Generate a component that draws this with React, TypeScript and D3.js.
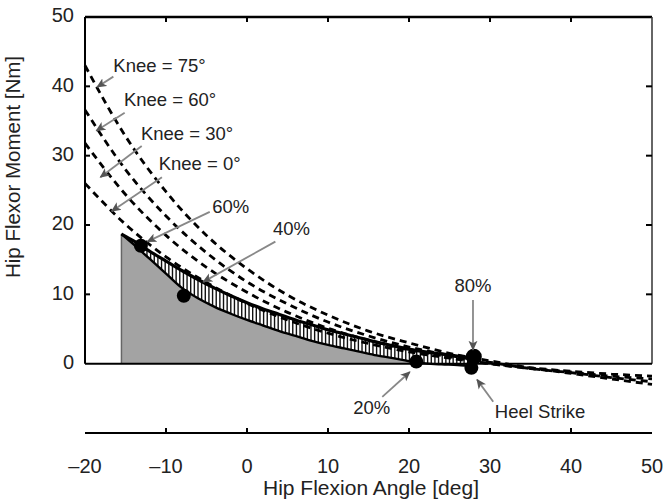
import React from "react";
import * as d3 from "d3";

// ---- data ----
const curveX = [-20, -15, -10, -5, 0, 5, 10, 15, 20, 25, 30, 35, 40, 45, 50];
const knee75 = [43.0, 32.8, 24.8, 18.5, 13.7, 9.9, 7.0, 4.7, 3.0, 1.5, 0.4, -0.6, -1.4, -2.2, -3.0];
const knee60 = [36.6, 28.0, 21.3, 16.0, 11.8, 8.6, 6.0, 4.0, 2.4, 1.2, 0.2, -0.7, -1.3, -2.0, -2.6];
const knee30 = [31.8, 24.4, 18.5, 13.9, 10.3, 7.4, 5.1, 3.4, 2.0, 1.0, 0.0, -0.7, -1.2, -1.8, -2.2];
const knee0 = [26.0, 20.1, 15.4, 11.7, 8.7, 6.3, 4.4, 2.9, 1.7, 0.8, 0.0, -0.6, -1.1, -1.5, -1.8];
const kneeSeries = [knee75, knee60, knee30, knee0];

const bandX = [-15.5, -14, -12, -10, -8, -6, -4, -2, 0, 2, 4, 6, 8, 10, 12, 14, 16, 18, 20, 22, 24, 26, 28];
const bandUpper = [18.7, 17.7, 16.2, 14.8, 13.4, 12.1, 10.9, 9.8, 8.8, 7.9, 7.1, 6.3, 5.6, 4.9, 4.3, 3.7, 3.1, 2.6, 2.1, 1.7, 1.4, 1.1, 0.9];
const bandLower = [18.7, 17.2, 15.1, 13.0, 10.9, 9.4, 8.2, 7.2, 6.3, 5.5, 4.7, 4.0, 3.3, 2.7, 2.2, 1.7, 1.2, 0.8, 0.35, 0.05, -0.1, -0.2, -0.4];

const dotLabels = ["60%", "40%", "20%", "80%", "Heel Strike"];
const dotX = [-13.1, -7.8, 20.9, 28.0, 27.7];
const dotY = [17.0, 9.8, 0.3, 1.0, -0.6];

const xTicks = [-20, -10, 0, 10, 20, 30, 40, 50];
const yTicks = [0, 10, 20, 30, 40, 50];

// annotations: label, text pos, arrow from, arrow to (data units)
const annotations = [
  { t: "Knee = 75°", tx: -16.5, ty: 42.8, a: "start", fx: -16.5, fy: 41.4, ex: -18.5, ey: 39.9 },
  { t: "Knee = 60°", tx: -15.2, ty: 37.8, a: "start", fx: -15.1, fy: 36.2, ex: -18.6, ey: 33.6 },
  { t: "Knee = 30°", tx: -13.1, ty: 33.0, a: "start", fx: -13.0, fy: 31.4, ex: -18.1, ey: 26.9 },
  { t: "Knee = 0°", tx: -10.9, ty: 28.7, a: "start", fx: -10.5, fy: 26.9, ex: -16.7, ey: 22.0 },
  { t: "60%", tx: -4.3, ty: 22.5, a: "start", fx: -4.6, fy: 21.9, ex: -12.3, ey: 17.6 },
  { t: "40%", tx: 3.2, ty: 19.3, a: "start", fx: 3.5, fy: 17.6, ex: -5.4, ey: 11.8 },
  { t: "80%", tx: 27.9, ty: 11.0, a: "middle", fx: 27.9, fy: 9.2, ex: 27.9, ey: 2.0 },
  { t: "20%", tx: 15.4, ty: -6.6, a: "middle", fx: 16.7, fy: -4.8, ex: 20.1, ey: -1.2 },
  { t: "Heel Strike", tx: 30.6, ty: -7.1, a: "start", fx: 30.4, fy: -5.5, ex: 28.4, ey: -2.3 },
];

const W = 666;
const H = 502;
const FONT = "Liberation Sans, Arial, Helvetica, sans-serif";

export default function App() {
  const x = d3.scaleLinear().domain([-20, 50]).range([85, 652]);
  const y = d3.scaleLinear().domain([-10, 50]).range([433, 17]);

  const line = d3
    .line<[number, number]>()
    .x((d) => x(d[0]))
    .y((d) => y(d[1]))
    .curve(d3.curveMonotoneX);

  const upInterp = d3.scaleLinear().domain(bandX).range(bandUpper);
  const loInterp = d3.scaleLinear().domain(bandX).range(bandLower);

  const fillArea = d3
    .area<[number, number]>()
    .x((d) => x(d[0]))
    .y0(y(0))
    .y1((d) => y(Math.max(0, d[1])))
    .curve(d3.curveMonotoneX);

  const bandPts = bandX.map((v, i) => [v, bandLower[i]] as [number, number]);
  const upperPts = bandX.map((v, i) => [v, bandUpper[i]] as [number, number]);

  const hatchXs = d3.range(bandX[0], bandX[bandX.length - 1], 0.45);

  const x0 = x(-20), x1 = x(50), yTop = y(50), yZero = y(0), yAxis = y(-10);

  return (
    <svg width={W} height={H} style={{ position: "absolute", left: 0, top: 0, background: "#fff" }} fontFamily={FONT}>
      <defs>
        <marker id="arr" viewBox="0 0 10 10" refX="9" refY="5" markerWidth="10" markerHeight="10" orient="auto" markerUnits="userSpaceOnUse">
          <path d="M0,0.5 L10,5 L0,9.5 L2.5,5 z" fill="#555" />
        </marker>
      </defs>

      {/* gray fill under trajectory */}
      <path d={fillArea(bandPts) || ""} fill="#a3a3a3" />
      <line x1={x(bandX[0])} x2={x(bandX[0])} y1={yZero} y2={y(bandLower[0])} stroke="#666" strokeWidth={1.5} />

      {/* hatched band */}
      {hatchXs.map((v, i) => (
        <line key={i} x1={x(v)} x2={x(v)} y1={y(upInterp(v))} y2={y(loInterp(v))} stroke="#111" strokeWidth={1.4} />
      ))}
      <path d={line(upperPts) || ""} fill="none" stroke="#000" strokeWidth={3.2} />
      <path d={line(bandPts) || ""} fill="none" stroke="#000" strokeWidth={2.4} />

      {/* box */}
      <line x1={x0} x2={x1} y1={yTop} y2={yTop} stroke="#000" strokeWidth={2.5} />
      <line x1={x0} x2={x0} y1={yTop} y2={yZero} stroke="#000" strokeWidth={2} />
      <line x1={x1} x2={x1} y1={yTop} y2={yZero} stroke="#333" strokeWidth={1.5} />
      <line x1={x0} x2={x1} y1={yZero} y2={yZero} stroke="#000" strokeWidth={2} />

      {/* inner ticks */}
      {yTicks.filter((t) => t > 0 && t < 50).map((t) => (
        <g key={"yt" + t}>
          <line x1={x0} x2={x0 + 5} y1={y(t)} y2={y(t)} stroke="#000" strokeWidth={2} />
          <line x1={x1} x2={x1 - 6} y1={y(t)} y2={y(t)} stroke="#000" strokeWidth={2} />
        </g>
      ))}
      {xTicks.filter((t) => t > -20 && t < 50).map((t) => (
        <line key={"xt" + t} x1={x(t)} x2={x(t)} y1={yTop} y2={yTop + 5} stroke="#000" strokeWidth={2} />
      ))}

      {/* dashed knee curves */}
      {kneeSeries.map((s, i) => (
        <path
          key={"k" + i}
          d={line(curveX.map((v, j) => [v, s[j]] as [number, number])) || ""}
          fill="none"
          stroke="#000"
          strokeWidth={2.8}
          strokeDasharray="7 5"
        />
      ))}

      {/* dots */}
      {dotX.map((v, i) => (
        <circle key={dotLabels[i]} cx={x(v)} cy={y(dotY[i])} r={i === 3 ? 8 : 7} fill="#000" />
      ))}

      {/* bottom axis */}
      <line x1={x0} x2={x1} y1={yAxis} y2={yAxis} stroke="#000" strokeWidth={2} />
      {xTicks.filter((t) => t > -20 && t < 50).map((t) => (
        <line key={"bt" + t} x1={x(t)} x2={x(t)} y1={yAxis} y2={yAxis - 5} stroke="#000" strokeWidth={2} />
      ))}
      {xTicks.map((t) => (
        <text key={"bl" + t} x={x(t)} y={yAxis + 35} textAnchor="middle" fontSize={20} fill="#222" dominantBaseline="middle">
          {t < 0 ? "\u2013" + Math.abs(t) : String(t)}
        </text>
      ))}
      {yTicks.map((t) => (
        <text key={"yl" + t} x={74} y={y(t)} textAnchor="end" fontSize={20} fill="#222" dominantBaseline="middle">
          {t}
        </text>
      ))}

      {/* axis titles */}
      <text x={371} y={489} textAnchor="middle" dominantBaseline="middle" fontSize={21} fill="#222">
        Hip Flexion Angle [deg]
      </text>
      <text
        transform={`translate(15,167) rotate(-90)`}
        textAnchor="middle"
        dominantBaseline="middle"
        fontSize={20.5}
        fill="#222"
      >
        Hip Flexor Moment [Nm]
      </text>

      {/* annotations */}
      {annotations.map((a) => (
        <g key={a.t}>
          <line x1={x(a.fx)} y1={y(a.fy)} x2={x(a.ex)} y2={y(a.ey)} stroke="#888" strokeWidth={1.8} markerEnd="url(#arr)" />
          <text x={x(a.tx)} y={y(a.ty)} textAnchor={a.a as any} dominantBaseline="middle" fontSize={18.5} fill="#222">
            {a.t}
          </text>
        </g>
      ))}
    </svg>
  );
}
